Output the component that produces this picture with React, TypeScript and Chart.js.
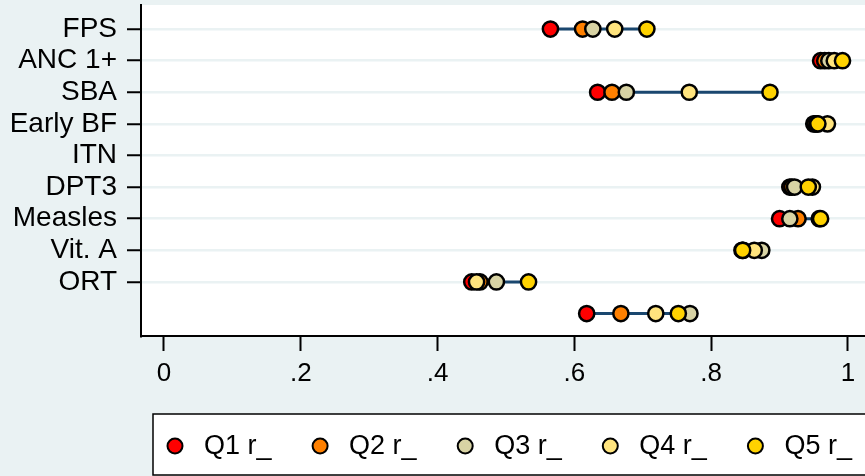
import React, { useEffect, useRef } from "react";
import { Chart, registerables } from "chart.js";

Chart.register(...registerables);

const categories = ["FPS", "ANC 1+", "SBA", "Early BF", "ITN", "DPT3", "Measles", "Vit. A", "ORT", ""];
const q1 = [0.565, 0.960, 0.634, 0.950, null, 0.915, 0.900, 0.845, 0.450, 0.618];
const q2 = [0.612, 0.966, 0.655, 0.952, null, 0.918, 0.927, 0.847, 0.462, 0.668];
const q3 = [0.627, 0.972, 0.676, 0.955, null, 0.922, 0.915, 0.874, 0.486, 0.769];
const q4 = [0.659, 0.980, 0.768, 0.970, null, 0.948, 0.958, 0.863, 0.457, 0.719];
const q5 = [0.706, 0.992, 0.886, 0.956, null, 0.942, 0.960, 0.846, 0.533, 0.752];
const seriesNames = ["Q1 r_", "Q2 r_", "Q3 r_", "Q4 r_", "Q5 r_"];
const seriesColors = ["#FF0000", "#FF8000", "#D8D3A4", "#FFE47E", "#FFD200"];
const xTickValues = [0, 0.2, 0.4, 0.6, 0.8, 1];
const xTickLabels = ["0", ".2", ".4", ".6", ".8", "1"];

const FONT = "'Liberation Sans', Arial, Helvetica, sans-serif";
const BG = "#EAF2F3";
const LINE = "#1A476F";

const allSeries = [q1, q2, q3, q4, q5];

const legendPlugin = {
  id: "boxLegend",
  afterDraw(chart: any) {
    const ctx = chart.ctx;
    ctx.save();
    ctx.fillStyle = "#FFFFFF";
    ctx.fillRect(153, 414, 720, 61);
    ctx.strokeStyle = "#000000";
    ctx.lineWidth = 1.5;
    ctx.strokeRect(153, 414, 720, 61);
    ctx.font = `27px ${FONT}`;
    ctx.textBaseline = "middle";
    ctx.textAlign = "left";
    seriesNames.forEach((name, i) => {
      const cx = 175 + i * 145.1;
      const cy = 446;
      ctx.beginPath();
      ctx.arc(cx, cy, 7.5, 0, Math.PI * 2);
      ctx.fillStyle = seriesColors[i];
      ctx.fill();
      ctx.lineWidth = 2;
      ctx.strokeStyle = "#000";
      ctx.stroke();
      ctx.fillStyle = "#000";
      ctx.fillText(name, cx + 29, cy + 1);
    });
    ctx.restore();
  },
};

const bgPlugin = {
  id: "bgPlugin",
  beforeDraw(chart: any) {
    const ctx = chart.ctx;
    const a = chart.chartArea;
    ctx.save();
    ctx.fillStyle = BG;
    ctx.fillRect(0, 0, chart.width, chart.height);
    ctx.fillStyle = "#FFFFFF";
    ctx.fillRect(a.left, a.top, a.right - a.left, a.bottom - a.top);
    ctx.restore();
  },
};

export default function App() {
  const ref = useRef<HTMLCanvasElement | null>(null);
  useEffect(() => {
    if (!ref.current) return;
    const rangeSets: any[] = categories.map((_, r) => {
      const vals = allSeries.map((s) => s[r]).filter((v) => v !== null) as number[];
      const data = vals.length
        ? [
            { x: Math.min(...vals), y: r + 1 },
            { x: Math.max(...vals), y: r + 1 },
          ]
        : [];
      return {
        type: "line",
        label: "range" + r,
        data,
        borderColor: LINE,
        borderWidth: 3,
        pointRadius: 0,
        fill: false,
        order: 10,
      };
    });
    const pointSets: any[] = allSeries.map((s, i) => ({
      type: "scatter",
      label: seriesNames[i],
      data: s.map((v, r) => ({ x: v, y: r + 1 })).filter((p) => p.x !== null),
      backgroundColor: seriesColors[i],
      borderColor: "#000000",
      borderWidth: 2.5,
      pointRadius: 7.6,
      pointHoverRadius: 7.6,
      order: 5 - i,
    }));
    const chart = new Chart(ref.current, {
      type: "scatter",
      data: { datasets: [...rangeSets, ...pointSets] },
      plugins: [bgPlugin, legendPlugin],
      options: {
        animation: false,
        responsive: true,
        maintainAspectRatio: false,
        layout: { autoPadding: false, padding: { top: 5, left: 0, right: 0, bottom: 80 } },
        plugins: { legend: { display: false }, tooltip: { enabled: false } },
        scales: {
          x: {
            type: "linear",
            min: -0.0336,
            max: 1.0249,
            afterBuildTicks: (scale: any) => {
              scale.ticks = xTickValues.map((v) => ({ value: v }));
            },
            afterFit: (scale: any) => {
              scale.height = 60;
              scale.paddingLeft = 0;
              scale.paddingRight = 0;
            },
            ticks: {
              font: { family: FONT, size: 26 },
              color: "#000",
              padding: 7,
              autoSkip: false,
              maxRotation: 0,
              callback: (v: any) => {
                const i = xTickValues.findIndex((t) => Math.abs(t - v) < 1e-9);
                return i >= 0 ? xTickLabels[i] : "";
              },
            },
            grid: {
              drawOnChartArea: false,
              tickLength: 15,
              tickColor: "#000",
              tickWidth: 2,
            },
            border: { color: "#000", width: 2 },
          },
          y: {
            type: "linear",
            reverse: true,
            min: 0.24,
            max: 10.71,
            afterBuildTicks: (scale: any) => {
              scale.ticks = categories
                .map((c, i) => ({ value: i + 1, label: c }))
                .filter((t) => t.label !== "");
            },
            afterFit: (scale: any) => {
              scale.width = 141;
              scale.paddingTop = 0;
              scale.paddingBottom = 0;
            },
            ticks: {
              font: { family: FONT, size: 28 },
              color: "#000",
              padding: 10,
              autoSkip: false,
              callback: (v: any) => categories[Math.round(v) - 1] ?? "",
            },
            grid: {
              color: BG,
              lineWidth: 2.5,
              tickLength: 14,
              tickColor: "#000",
              tickWidth: 2,
            },
            border: { color: "#000", width: 2 },
          },
        },
      } as any,
    });
    return () => chart.destroy();
  }, []);
  return (
    <div style={{ position: "absolute", left: 0, top: 0, width: 865, height: 476 }}>
      <canvas ref={ref} />
    </div>
  );
}
